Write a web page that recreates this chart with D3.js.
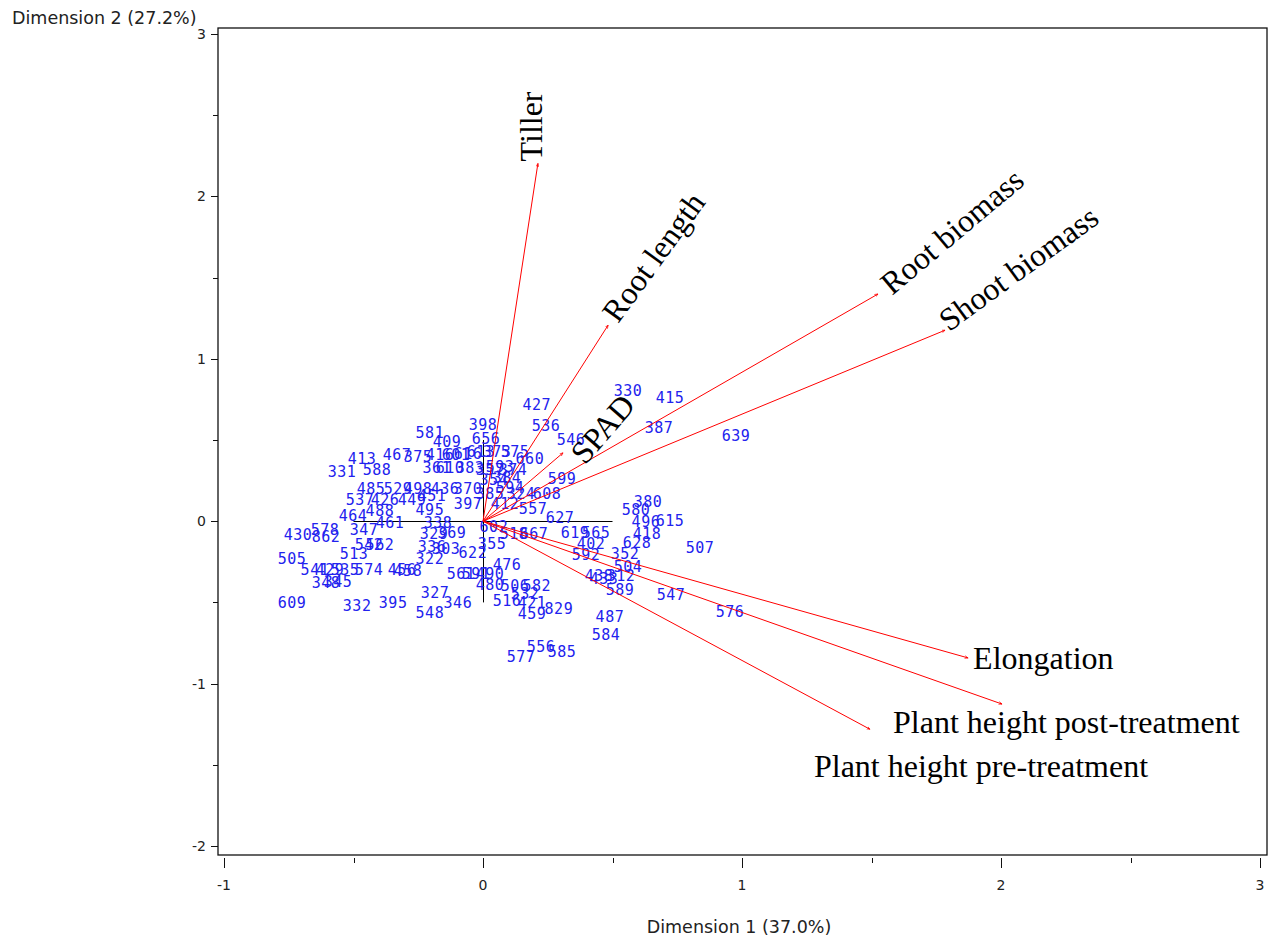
<!DOCTYPE html>
<html>
<head>
<meta charset="utf-8">
<script src="https://cdn.jsdelivr.net/npm/d3@7"></script>
<style>
  body { margin: 0; background: #fff; }
  svg { display: block; }
  .tick-label { font-family: "DejaVu Sans", sans-serif; font-size: 14px; fill: #222; }
  .axis-title { font-family: "DejaVu Sans", sans-serif; font-size: 17.5px; fill: #222; }
  .pt { font-family: "DejaVu Sans Mono", monospace; font-size: 15px; fill: #2222ee; letter-spacing: 0.5px; }
  .var-label { font-family: "Liberation Serif", "Times New Roman", serif; font-size: 32px; fill: #000; }
</style>
</head>
<body>
<svg id="chart" width="1270" height="938"></svg>
<script>
// axis ticks and titles
const xTicks = [-1, 0, 1, 2, 3];
const yTicks = [-2, -1, 0, 1, 2, 3];
const xTitle = "Dimension 1 (37.0%)";
const yTitle = "Dimension 2 (27.2%)";

// trait vectors (dim 1, dim 2)
const varNames = ["Tiller", "Root length", "SPAD", "Root biomass", "Shoot biomass",
  "Elongation", "Plant height post-treatment", "Plant height pre-treatment"];
const varDim1 = [0.212, 0.483, 0.309, 1.525, 1.784, 1.873, 2.004, 1.494];
const varDim2 = [2.203, 1.207, 0.421, 1.399, 1.176, -0.842, -1.126, -1.281];

// accession scores
const pointLabels = [
  "330", "415", "427", "536", "387", "639", "546", "599", "608", "324",
  "412", "557", "627", "580", "380", "496", "615", "418", "628", "507",
  "352", "504", "438", "433", "312", "589", "547", "576", "487", "584",
  "592", "619", "565", "402", "602", "518", "667", "355", "476", "622",
  "561", "591", "490", "480", "506", "582", "532", "516", "421", "459",
  "829", "556", "585", "577", "398", "656", "581", "409", "413", "467",
  "375", "331", "588", "416", "601", "616", "613", "373", "575", "660",
  "593", "384", "361", "610", "383", "357", "485", "529", "498", "436",
  "370", "537", "426", "449", "451", "495", "397", "464", "488", "461",
  "578", "430", "862", "347", "542", "562", "513", "505", "541", "429",
  "535", "574", "456", "458", "348", "345", "609", "332", "395", "327",
  "548", "346", "322", "329", "369", "336", "303", "338", "594", "374",
  "354", "385"
];
const dim1 = [
  0.560, 0.722, 0.208, 0.243, 0.680, 0.977, 0.340, 0.305, 0.247, 0.147,
  0.085, 0.193, 0.297, 0.591, 0.637, 0.629, 0.722, 0.633, 0.595, 0.838,
  0.548, 0.560, 0.448, 0.467, 0.533, 0.529, 0.726, 0.954, 0.490, 0.475,
  0.398, 0.355, 0.436, 0.417, 0.042, 0.120, 0.197, 0.035, 0.093, -0.039,
  -0.085, -0.027, 0.027, 0.027, 0.124, 0.208, 0.162, 0.093, 0.189, 0.189,
  0.293, 0.224, 0.305, 0.147, 0.000, 0.012, -0.205, -0.139, -0.467, -0.332,
  -0.251, -0.544, -0.409, -0.166, -0.104, -0.058, -0.008, 0.054, 0.124, 0.181,
  0.066, 0.093, -0.178, -0.127, -0.050, 0.027, -0.432, -0.328, -0.251, -0.147,
  -0.058, -0.475, -0.378, -0.274, -0.197, -0.205, -0.058, -0.502, -0.398, -0.359,
  -0.610, -0.714, -0.606, -0.459, -0.440, -0.398, -0.498, -0.737, -0.649, -0.591,
  -0.533, -0.440, -0.313, -0.290, -0.606, -0.560, -0.737, -0.486, -0.347, -0.185,
  -0.205, -0.097, -0.205, -0.189, -0.120, -0.197, -0.143, -0.174, 0.104, 0.116,
  0.042, 0.027
];
const dim2 = [
  0.804, 0.761, 0.718, 0.588, 0.576, 0.526, 0.501, 0.260, 0.167, 0.167,
  0.111, 0.080, 0.025, 0.074, 0.118, 0.000, 0.006, -0.074, -0.130, -0.161,
  -0.198, -0.278, -0.334, -0.353, -0.334, -0.421, -0.452, -0.557, -0.588, -0.699,
  -0.204, -0.068, -0.068, -0.136, -0.031, -0.074, -0.074, -0.136, -0.266, -0.192,
  -0.322, -0.322, -0.322, -0.390, -0.396, -0.396, -0.446, -0.489, -0.501, -0.569,
  -0.538, -0.774, -0.804, -0.835, 0.594, 0.507, 0.545, 0.489, 0.384, 0.408,
  0.396, 0.303, 0.316, 0.408, 0.408, 0.415, 0.427, 0.427, 0.427, 0.384,
  0.334, 0.266, 0.328, 0.328, 0.328, 0.316, 0.198, 0.198, 0.198, 0.198,
  0.198, 0.130, 0.130, 0.130, 0.155, 0.074, 0.111, 0.037, 0.068, -0.006,
  -0.050, -0.080, -0.093, -0.050, -0.142, -0.142, -0.198, -0.229, -0.297, -0.297,
  -0.297, -0.297, -0.297, -0.303, -0.377, -0.371, -0.501, -0.520, -0.501, -0.439,
  -0.563, -0.501, -0.229, -0.074, -0.068, -0.155, -0.167, -0.006, 0.204, 0.316,
  0.254, 0.167
];

// where each trait label sits relative to its arrow tip (px, degrees)
const labelPlace = [
  { dx: 4, dy: -2, rot: -90 },
  { dx: 10, dy: -1, rot: -54 },
  { dx: 22, dy: 13, rot: -49 },
  { dx: 14, dy: 2, rot: -40 },
  { dx: 4, dy: 2, rot: -36 },
  { dx: 5, dy: 11, rot: 0 },
  { dx: -109, dy: 29, rot: 0 },
  { dx: -56, dy: 48, rot: 0 }
];

const svg = d3.select("#chart");

const x = d3.scaleLinear().domain([-1, 3]).range([224, 1260]);
const y = d3.scaleLinear().domain([-2, 3]).range([846, 34]);

const frameL = 218, frameR = 1267, frameT = 28, frameB = 855;

// frame
svg.append("rect")
  .attr("x", frameL).attr("y", frameT)
  .attr("width", frameR - frameL).attr("height", frameB - frameT)
  .attr("fill", "none").attr("stroke", "#111").attr("stroke-width", 1.3);

// y axis ticks (major + half steps)
const yMinor = d3.range(-2, 3.01, 0.5);
svg.append("g").selectAll("line").data(yMinor).join("line")
  .attr("x1", (d) => (Number.isInteger(d) ? frameL - 7 : frameL - 5))
  .attr("x2", frameL)
  .attr("y1", (d) => Math.round(y(d)) + 0.5)
  .attr("y2", (d) => Math.round(y(d)) + 0.5)
  .attr("stroke", "#111");

svg.append("g").selectAll("text").data(yTicks).join("text")
  .attr("class", "tick-label")
  .attr("x", frameL - 12)
  .attr("y", (d) => y(d) + 5)
  .attr("text-anchor", "end")
  .text((d) => d);

// x axis ticks, drawn just under the frame
const xMinor = d3.range(-1, 3.01, 0.5);
svg.append("g").selectAll("line").data(xMinor).join("line")
  .attr("x1", (d) => Math.round(x(d)) + 0.5)
  .attr("x2", (d) => Math.round(x(d)) + 0.5)
  .attr("y1", frameB + 3)
  .attr("y2", (d) => (Number.isInteger(d) ? frameB + 13 : frameB + 8))
  .attr("stroke", "#111");

svg.append("g").selectAll("text").data(xTicks).join("text")
  .attr("class", "tick-label")
  .attr("x", (d) => x(d))
  .attr("y", frameB + 35)
  .attr("text-anchor", "middle")
  .text((d) => d);

// axis titles
svg.append("text").attr("class", "axis-title")
  .attr("x", 12).attr("y", 24).text(yTitle);
svg.append("text").attr("class", "axis-title")
  .attr("x", 739).attr("y", 933).attr("text-anchor", "middle").text(xTitle);

// short cross at the origin
svg.append("line")
  .attr("x1", x(-0.5)).attr("x2", x(0.5))
  .attr("y1", Math.round(y(0)) + 0.5).attr("y2", Math.round(y(0)) + 0.5)
  .attr("stroke", "#000");
svg.append("line")
  .attr("x1", Math.round(x(0)) + 0.5).attr("x2", Math.round(x(0)) + 0.5)
  .attr("y1", y(0.5)).attr("y2", y(-0.5))
  .attr("stroke", "#000");

// point labels
svg.append("g").selectAll("text").data(pointLabels).join("text")
  .attr("class", "pt")
  .attr("x", (d, i) => x(dim1[i]))
  .attr("y", (d, i) => y(dim2[i]))
  .attr("dy", "0.36em")
  .attr("text-anchor", "middle")
  .text((d) => d);

// arrow heads (tiny, as in the original)
svg.append("defs").append("marker")
  .attr("id", "head")
  .attr("viewBox", "0 -3 6 6")
  .attr("refX", 5).attr("refY", 0)
  .attr("markerWidth", 4).attr("markerHeight", 4)
  .attr("markerUnits", "userSpaceOnUse")
  .attr("orient", "auto")
  .append("path")
  .attr("d", "M0,-2L5,0L0,2")
  .attr("fill", "none")
  .attr("stroke", "#ff0000");

const vars = varNames.map((name, i) => ({ name, d1: varDim1[i], d2: varDim2[i], place: labelPlace[i] }));

svg.append("g").selectAll("line").data(vars).join("line")
  .attr("x1", x(0)).attr("y1", y(0))
  .attr("x2", (d) => x(d.d1)).attr("y2", (d) => y(d.d2))
  .attr("stroke", "#ff0000")
  .attr("stroke-width", 1)
  .attr("marker-end", "url(#head)");

svg.append("g").selectAll("text").data(vars).join("text")
  .attr("class", "var-label")
  .attr("transform", (d) =>
    `translate(${x(d.d1) + d.place.dx} ${y(d.d2) + d.place.dy}) rotate(${d.place.rot})`)
  .text((d) => d.name);
</script>
</body>
</html>
